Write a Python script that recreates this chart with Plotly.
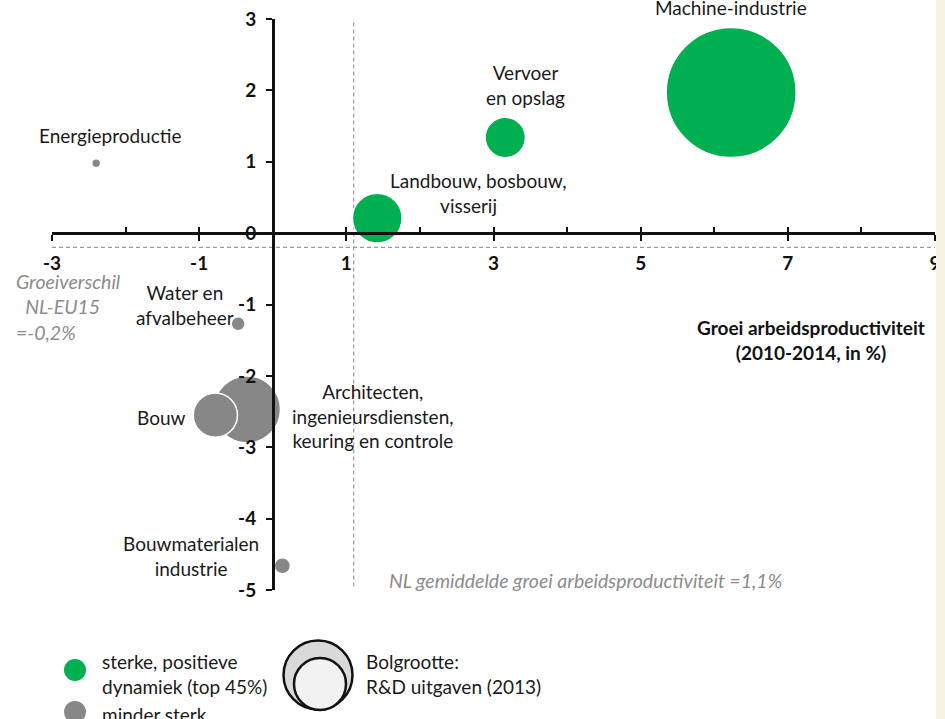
import plotly.graph_objects as go

# ---- data ----
sectors = ["Machine-industrie", "Vervoer en opslag", "Landbouw, bosbouw, visserij",
           "Energieproductie", "Water en afvalbeheer",
           "Architecten, ingenieursdiensten, keuring en controle", "Bouw",
           "Bouwmaterialen industrie"]
productivity_growth = [6.23, 3.16, 1.42, -2.40, -0.47, -0.35, -0.78, 0.13]   # x, %
growth_gap_eu15 = [1.97, 1.34, 0.21, 0.98, -1.27, -2.47, -2.55, -4.66]       # y, %
rd_spending_2013 = [2600, 250, 380, 12, 30, 690, 300, 40]                    # bubble size
dynamics = ["sterk", "sterk", "sterk", "minder", "minder", "minder", "minder", "minder"]

label_texts = ["Machine-industrie", "Vervoer<br>en opslag",
               "Landbouw, bosbouw,<br>visserij&nbsp;&nbsp;&nbsp;&nbsp;",
               "Energieproductie", "Water en<br>afvalbeheer",
               "Architecten,<br>ingenieursdiensten,<br>keuring en controle", "Bouw",
               "Bouwmaterialen<br>industrie"]

x_major_ticks = [-3, -1, 1, 3, 5, 7, 9]
x_major_labels = ["-3", "-1", "1", "3", "5", "7", "9"]
x_minor_ticks = [-2, 0, 2, 4, 6, 8]
y_ticks = [3, 2, 1, 0, -1, -2, -3, -4, -5]
y_labels = ["3", "2", "1", "0", "-1", "-2", "-3", "-4", "-5"]

nl_avg_productivity_growth = 1.1
nl_eu15_gap = -0.2

# ---- styles / layout positions ----
GREEN = "#00b050"
GREY = "#878787"
colors = {"sterk": GREEN, "minder": GREY}
FONT = "Lato"
FS = 19

label_pos = [(6.23, 3.0, 12), (3.43, 2.07, 0), (2.79, 0.56, 0), (-2.21, 1.37, 0),
             (-1.19, -1.01, 0), (1.36, -2.56, 0), (-1.51, -2.59, 0), (-1.11, -4.52, 0)]

XR = [-3, 9]
YR = [-5, 3]
x_axis_pos = (0 - YR[0]) / (YR[1] - YR[0])
y_axis_pos = (0 - XR[0]) / (XR[1] - XR[0])

FIG_W, FIG_H = 945, 719
L, T, W, H = 52, 19, 883, 571   # plot area in pixels

fig = go.Figure()

# reference lines
fig.add_shape(type="line", xref="x", yref="y", x0=XR[0], x1=XR[1],
              y0=nl_eu15_gap, y1=nl_eu15_gap,
              line=dict(color="#9a9a9a", width=1.2, dash="4px,3px"), layer="below")
fig.add_shape(type="line", xref="x", yref="y", x0=nl_avg_productivity_growth,
              x1=nl_avg_productivity_growth, y0=YR[0] + 0.05, y1=YR[1],
              line=dict(color="#9a9a9a", width=1.2, dash="4px,3px"), layer="below")

sizeref = 2 * max(rd_spending_2013) / 130 ** 2
fig.add_trace(go.Scatter(
    x=productivity_growth, y=growth_gap_eu15, mode="markers",
    marker=dict(size=rd_spending_2013, sizemode="area", sizeref=sizeref,
                color=[colors[d] for d in dynamics],
                line=dict(color="white", width=1.5), opacity=1),
    text=sectors, hoverinfo="text", showlegend=False, cliponaxis=False))

# helper trace for the overlay axis (upper half of major x ticks)
fig.add_trace(go.Scatter(x=[None], y=[None], xaxis="x2", yaxis="y",
                         showlegend=False, hoverinfo="skip"))

for txt, (lx, ly, ys) in zip(label_texts, label_pos):
    fig.add_annotation(x=lx, y=ly, yshift=ys, text=txt, showarrow=False,
                       xref="x", yref="y", align="center",
                       font=dict(family=FONT, size=FS, color="#1a1a1a"))

fig.add_annotation(x=XR[0], y=-1.03, xshift=-38, xanchor="left", yanchor="middle", text=
                   "<i>Groeiverschil<br>&nbsp;&nbsp;NL-EU15<br>=-0,2%</i>",
                   showarrow=False, align="left",
                   font=dict(family=FONT, size=19.5, color="#8c8c8c"))
fig.add_annotation(x=4.25, y=-4.86, text="<i>NL gemiddelde groei arbeidsproductiviteit =1,1%</i>",
                   showarrow=False, font=dict(family=FONT, size=19.5, color="#8c8c8c"))
fig.add_annotation(x=7.32, y=-1.50, text="<b>Groei arbeidsproductiviteit<br>(2010-2014, in %)</b>",
                   showarrow=False, align="center",
                   font=dict(family=FONT, size=FS, color="#111111"))

# ---- manual legend (paper coordinates, pixel-sized symbols) ----
def px(x):
    return (x - L) / W
def py(y):
    return (T + H - y) / H

def circle(cx, cy, d, fill, line_color=None, lw=0):
    fig.add_shape(type="circle", xref="paper", yref="paper", xsizemode="pixel",
                  ysizemode="pixel", xanchor=px(cx), yanchor=py(cy),
                  x0=-d / 2, x1=d / 2, y0=-d / 2, y1=d / 2, fillcolor=fill,
                  line=dict(color=line_color or fill, width=lw))

circle(75, 670, 22, GREEN)
circle(75, 712, 22, GREY)
circle(318, 675, 69, "#d9d9d9", "#111111", 2.5)
circle(320, 684, 52, "#f2f2f2", "#111111", 2.5)

legend_font = dict(family=FONT, size=FS, color="#1a1a1a")
fig.add_annotation(xref="paper", yref="paper", x=px(100), y=py(673.5), xanchor="left",
                   yanchor="middle", text="sterke, positieve<br>dynamiek (top 45%)",
                   showarrow=False, align="left", font=legend_font)
fig.add_annotation(xref="paper", yref="paper", x=px(100), y=py(714), xanchor="left",
                   yanchor="middle", text="minder sterk", showarrow=False, align="left",
                   font=legend_font)
fig.add_annotation(xref="paper", yref="paper", x=px(364), y=py(673.5), xanchor="left",
                   yanchor="middle", text="Bolgrootte:<br>R&D uitgaven (2013)",
                   showarrow=False, align="left", font=legend_font)

# cream side panel on the right
fig.add_shape(type="rect", xref="paper", yref="paper", x0=px(936), x1=px(960),
              y0=py(740), y1=py(-20), fillcolor="#f7f3e2", line=dict(width=0), layer="above")

tickfont = dict(family=FONT, size=FS, color="#111111", weight="bold")
fig.update_layout(
    width=FIG_W, height=FIG_H,
    margin=dict(l=L, r=FIG_W - L - W, t=T, b=FIG_H - T - H, autoexpand=False),
    paper_bgcolor="white", plot_bgcolor="white",
    xaxis=dict(range=XR, anchor="free", position=x_axis_pos, showgrid=False,
               zeroline=False, showline=True, linecolor="#111111", linewidth=2.5,
               tickmode="array", tickvals=x_major_ticks, ticktext=x_major_labels,
               ticks="outside", ticklen=6, automargin=False, ticklabeloverflow="allow",
               tickwidth=2, tickcolor="#111111", tickfont=tickfont,
               ticklabelstandoff=6,
               minor=dict(tickmode="array", tickvals=x_minor_ticks, ticks="inside",
                          ticklen=5, tickwidth=2, tickcolor="#111111", showgrid=False)),
    xaxis2=dict(range=XR, overlaying="x", anchor="free", position=x_axis_pos,
                showgrid=False, zeroline=False, showline=False, tickmode="array",
                tickvals=x_major_ticks, ticks="inside", ticklen=6, tickwidth=2,
                tickcolor="#111111", showticklabels=False, automargin=False),
    yaxis=dict(range=YR, anchor="free", position=y_axis_pos, showgrid=False,
               zeroline=False, showline=True, linecolor="#111111", linewidth=2.5,
               tickmode="array", tickvals=y_ticks, ticktext=y_labels,
               ticks="outside", ticklen=6, automargin=False, ticklabeloverflow="allow",
               tickwidth=2, tickcolor="#111111", tickfont=tickfont,
               ticklabelstandoff=6),
    showlegend=False,
)

# remove the default 8px page margin so the figure fills the window exactly
fig.write_html("out.html", config={"displayModeBar": False},
               post_script="document.body.style.margin='0';")
